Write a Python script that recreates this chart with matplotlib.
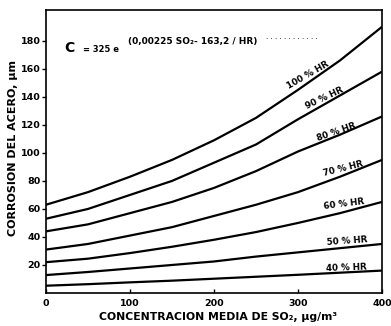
import numpy as np
import matplotlib.pyplot as plt

# valores (SO2 en ug/m3, corrosion en um)
so2 = [0, 50, 100, 150, 200, 250, 300, 350, 400]
hr_labels = ["100 % HR", "90 % HR", "80 % HR", "70 % HR", "60 % HR", "50 % HR", "40 % HR"]
c_100 = [63, 72, 83, 95, 109, 125, 145, 166, 190]
c_90 = [53, 60, 70, 80, 93, 106, 124, 141, 158]
c_80 = [44, 49, 57, 65, 75, 87, 101, 113, 126]
c_70 = [31, 35, 41, 47, 55, 63, 72, 83, 95]
c_60 = [22, 24.5, 28.5, 33, 38, 43.5, 50, 57, 65]
c_50 = [12.8, 15, 17.5, 20, 22.5, 26, 29, 32, 35]
c_40 = [5.2, 6.3, 7.6, 8.8, 10.2, 11.6, 13, 14.5, 16]
curvas = [c_100, c_90, c_80, c_70, c_60, c_50, c_40]

yticks = [20, 40, 60, 80, 100, 120, 140, 160, 180]
xticks = [0, 100, 200, 300, 400]

# posicion y giro de las etiquetas de cada curva
lab_x = [312, 332, 346, 354, 355, 358, 357]
lab_y = [155.6, 139, 115, 88.5, 63.5, 37, 18]
lab_rot = [30, 25, 19, 14, 7, 4, 2]

fig = plt.figure(figsize=(3.91, 3.26), dpi=100)
ax = fig.add_axes([46/391, 1 - 293/326, (382 - 46)/391, (293 - 10)/326])

for c in curvas:
    ax.plot(so2, c, color="black", lw=1.6, solid_capstyle="butt")

for txt, x, y, r in zip(hr_labels, lab_x, lab_y, lab_rot):
    ax.text(x, y, txt, rotation=r, ha="center", va="center",
            fontsize=6.3, fontweight="bold", rotation_mode="anchor")

ax.set_xlim(0, 400)
ax.set_ylim(0, 202)
ax.set_yticks(yticks)
ax.set_xticks(xticks)
ax.tick_params(axis="y", direction="out", length=3, width=1, pad=1, labelsize=6.8)
ax.tick_params(axis="x", direction="in", length=3, width=1, pad=4, labelsize=6.8)
for lab in ax.get_xticklabels() + ax.get_yticklabels():
    lab.set_fontweight("bold")
for s in ax.spines.values():
    s.set_linewidth(1.2)

# formula
ax.text(0.055, 0.865, "C", transform=ax.transAxes, fontsize=10, fontweight="bold",
        va="center", ha="left")
ax.text(0.11, 0.86, "= 325 e", transform=ax.transAxes, fontsize=6, fontweight="bold",
        va="center", ha="left")
ax.text(0.245, 0.89, "(0,00225 SO\u2082- 163,2 / HR)", transform=ax.transAxes,
        fontsize=6.5, fontweight="bold", va="center", ha="left")
ax.text(0.655, 0.905, ". . . . . . . . . . . .", transform=ax.transAxes,
        fontsize=5, va="center", ha="left")

fig.text(13/391, 1 - 148/326, "CORROSION DEL ACERO, \u00b5m", rotation=90,
         ha="center", va="center", fontsize=8, fontweight="bold")
fig.text(218/391, 1 - 317/326, "CONCENTRACION MEDIA DE SO\u2082, \u00b5g/m\u00b3",
         ha="center", va="center", fontsize=7.8, fontweight="bold")

fig.savefig("out.png", dpi=100)
